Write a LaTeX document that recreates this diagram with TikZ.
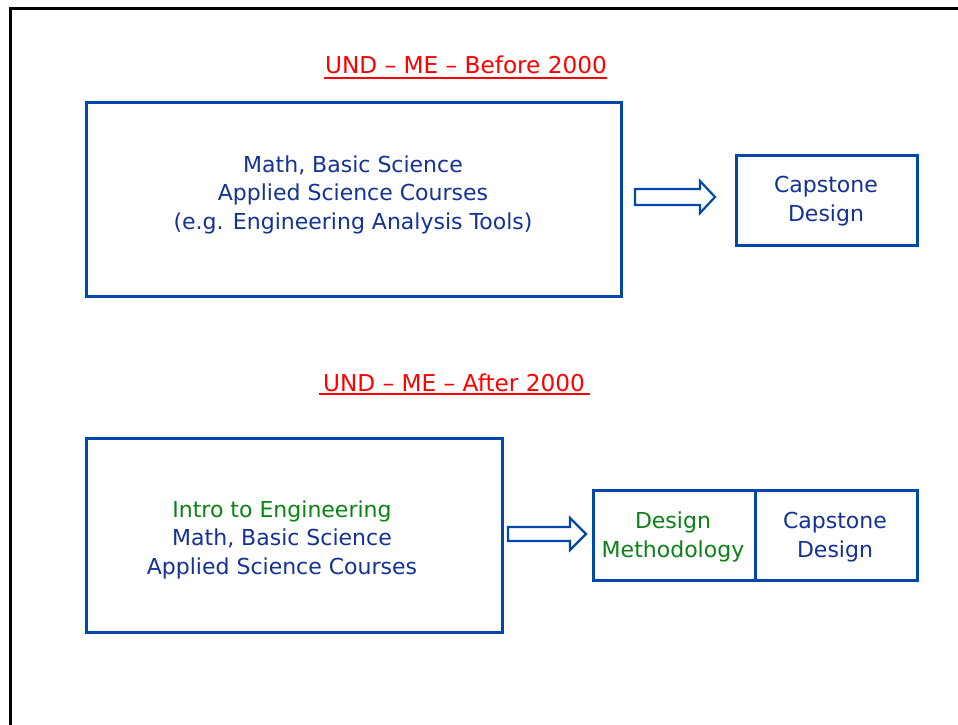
\documentclass[tikz,border=0pt]{standalone}
\usepackage{fontspec}
\setmainfont{DejaVu Sans}
\definecolor{boxblue}{RGB}{0,72,170}
\definecolor{txtblue}{RGB}{20,50,150}
\definecolor{txtgreen}{RGB}{10,130,20}
\definecolor{ttlred}{RGB}{255,0,0}
\begin{document}
\begin{tikzpicture}[x=1pt,y=-1pt,
  box/.style={draw=boxblue,line width=2.6pt,fill=white,inner sep=0pt,anchor=north west},
  txt/.style={text=txtblue,align=center,inner sep=0pt,anchor=base,
    font=\fontsize{22}{28.5}\selectfont},
  ttl/.style={text=ttlred,font=\fontsize{23.2}{26}\selectfont,inner sep=0pt,anchor=base},
  uline/.style={draw=ttlred,line width=2.4pt},
  blockarrow/.style={draw=boxblue,line width=2.2pt,fill=white,line join=miter}]
\useasboundingbox (0,0) rectangle (958,724);
\fill[white] (0,0) rectangle (958,724);
% frame
\draw[line width=3pt] (10,730) -- (10,8) -- (965,8);
% titles
\node[ttl] (t1) at (466,73) {UND – ME – Before 2000};
\draw[uline] (324,78) -- (607,78);
\node[ttl] (t2) at (454,391) {UND – ME – After 2000};
\draw[uline] (319,394) -- (590,394);
% boxes
\node[box,minimum width=535pt,minimum height=194pt] (b1) at (85,101) {};
\node[box,minimum width=181pt,minimum height=90pt] (b2) at (735,154) {};
\node[box,minimum width=416pt,minimum height=194pt] (b3) at (85,437) {};
\node[box,minimum width=162pt,minimum height=90pt] (b4) at (592,489) {};
\node[box,minimum width=162pt,minimum height=90pt] (b5) at (754,489) {};
% texts (anchor = baseline of last line)
\node[txt] (x1) at (353,229)
  {Math, Basic Science\\Applied Science Courses\\(e.g. Engineering Analysis Tools)};
\node[txt] (x2) at (826,221) {Capstone\\Design};
\node[txt] (x3) at (282,574)
  {\textcolor{txtgreen}{Intro to Engineering}\\Math, Basic Science\\Applied Science Courses};
\node[txt,text=txtgreen] (x4) at (673,557) {Design\\Methodology};
\node[txt] (x5) at (835,557) {Capstone\\Design};
% block arrows
\draw[blockarrow] (635,189) -- (700,189) -- (700,181) -- (715,197) -- (700,213)
  -- (700,205) -- (635,205) -- cycle;
\draw[blockarrow] (508,527) -- (570,527) -- (570,518) -- (586,534) -- (570,550)
  -- (570,541) -- (508,541) -- cycle;
\end{tikzpicture}
\end{document}
